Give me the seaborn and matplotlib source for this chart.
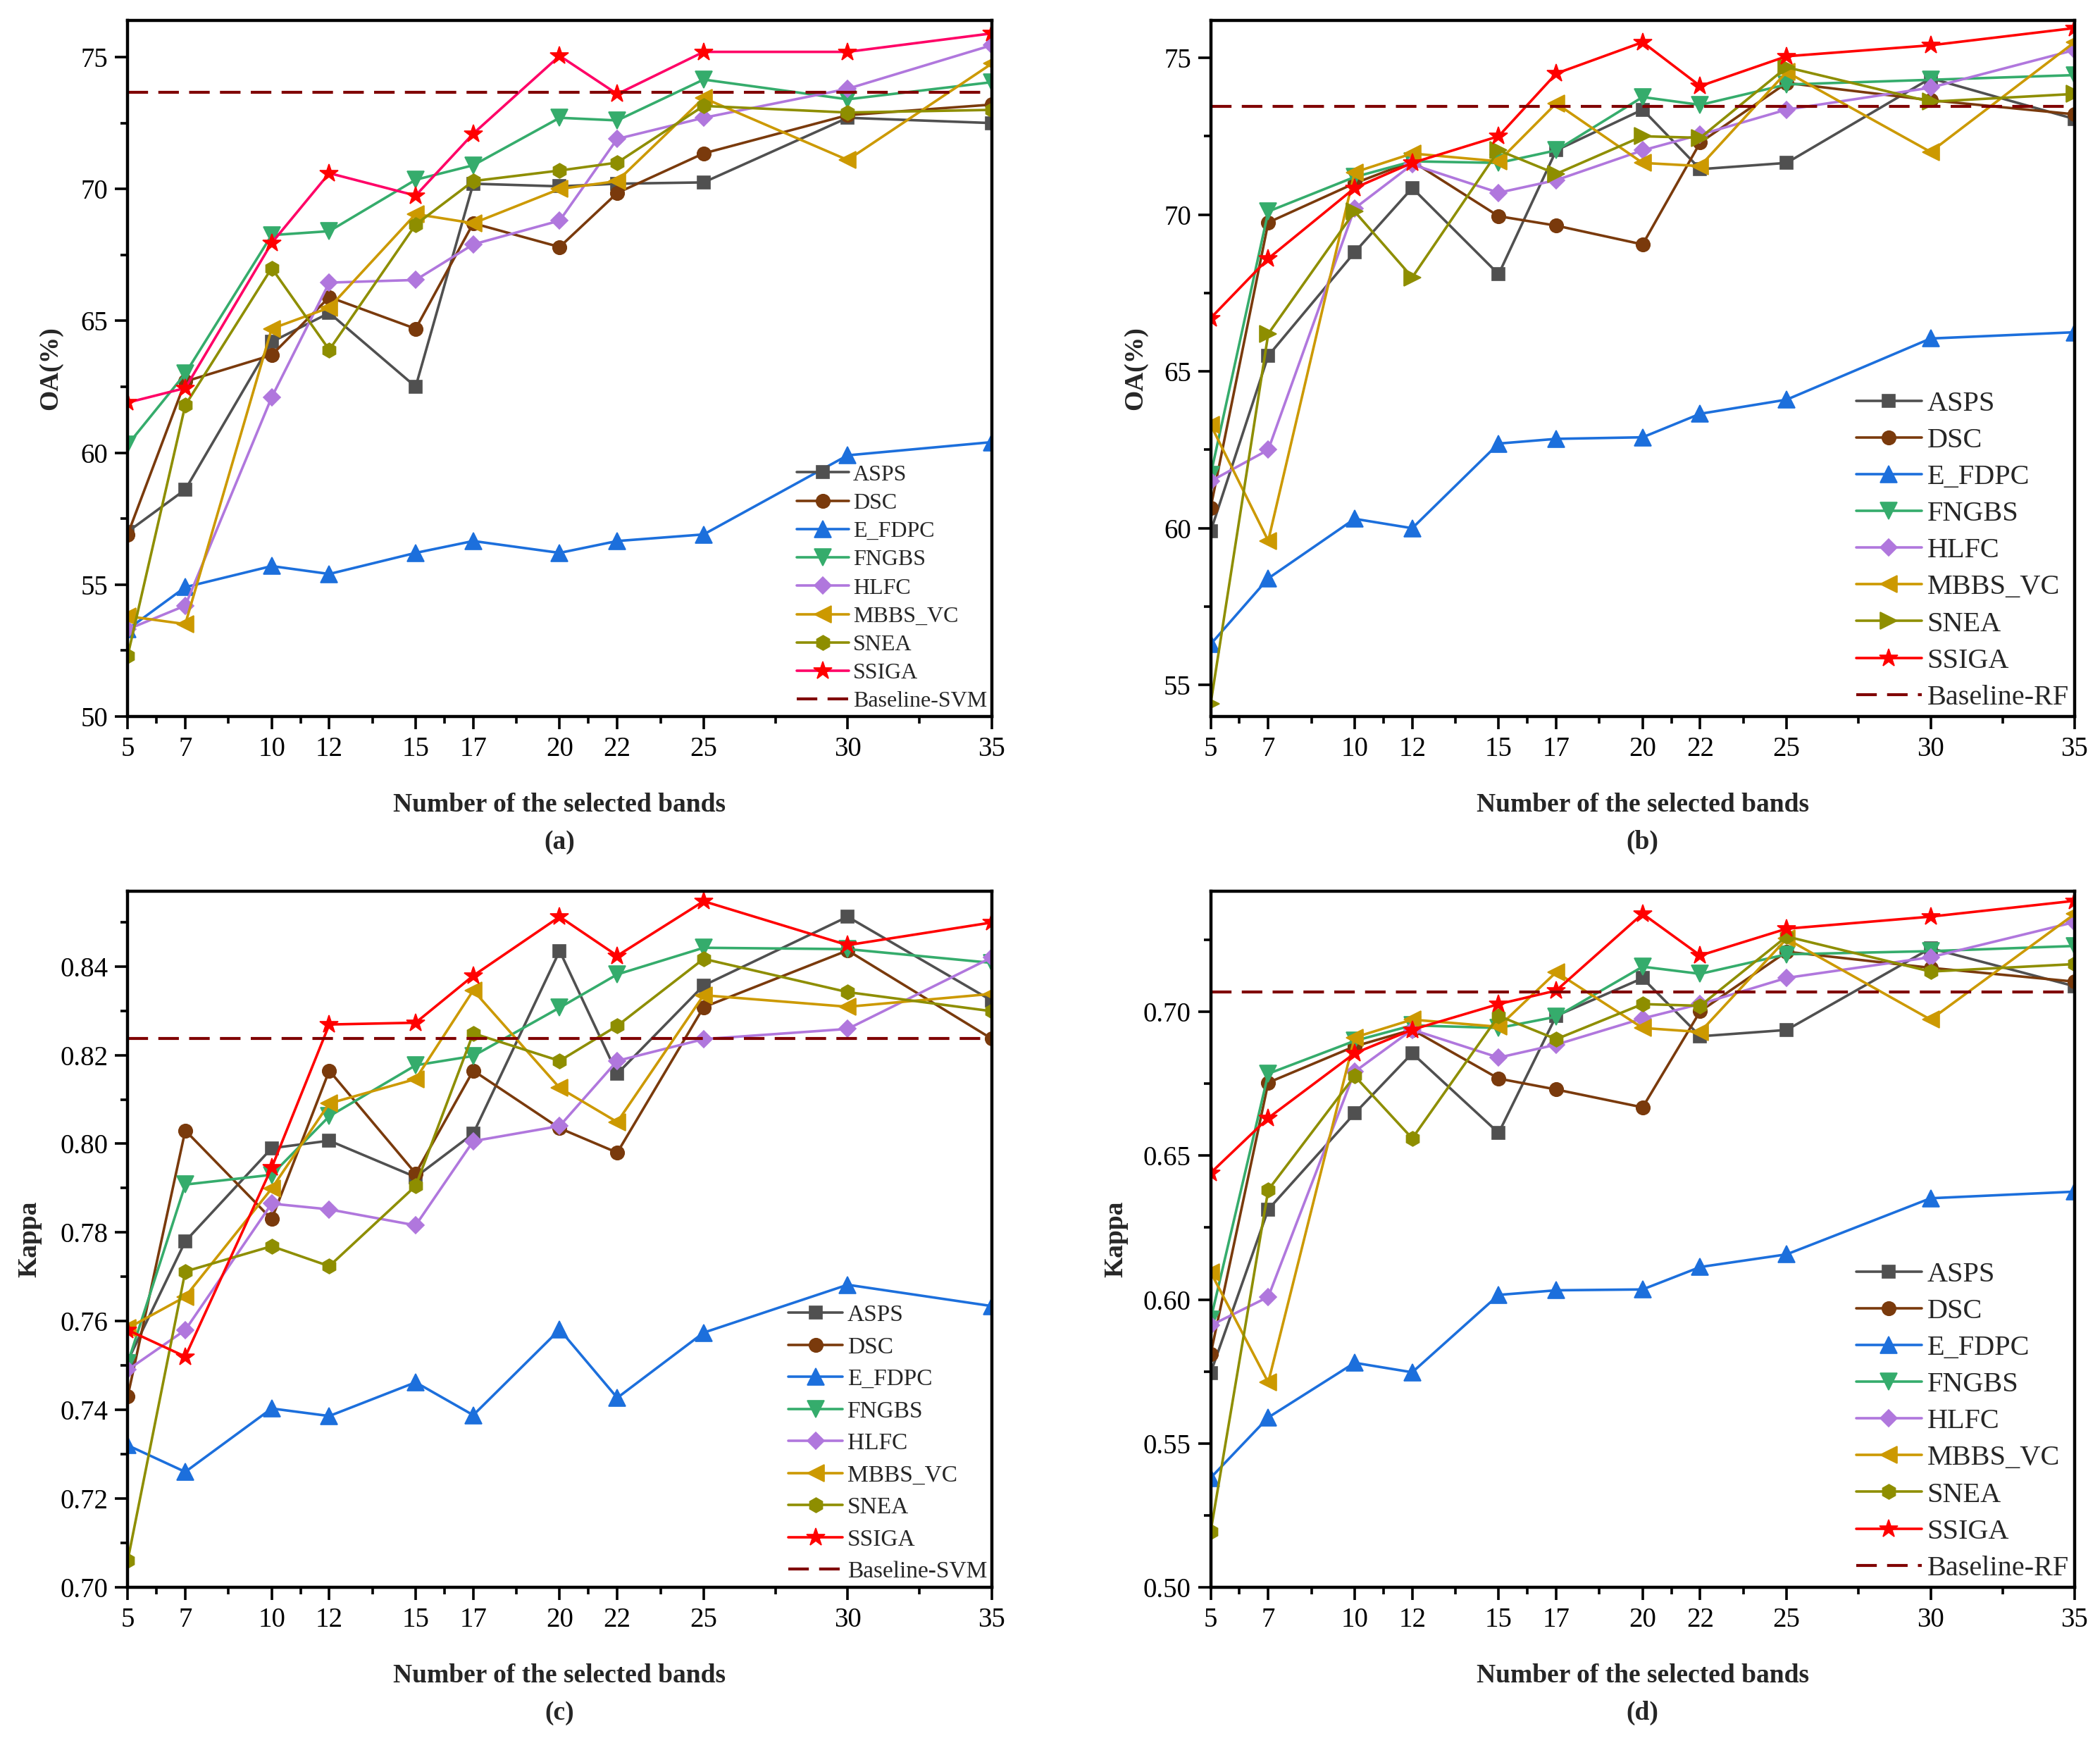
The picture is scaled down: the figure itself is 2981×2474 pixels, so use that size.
import matplotlib
matplotlib.use('Agg')
import matplotlib.pyplot as plt
import seaborn as sns
from matplotlib.ticker import FixedLocator, AutoMinorLocator, FormatStrFormatter

sns.set_style("ticks")
plt.rcParams['font.family'] = ['Liberation Serif', 'DejaVu Serif']
plt.rcParams['axes.linewidth'] = 1.6
plt.rcParams['xtick.major.size'] = 6.5
plt.rcParams['ytick.major.size'] = 6.5
plt.rcParams['xtick.minor.size'] = 3.5
plt.rcParams['ytick.minor.size'] = 3.5
plt.rcParams['xtick.major.width'] = 1.3
plt.rcParams['ytick.major.width'] = 1.3
plt.rcParams['xtick.minor.width'] = 1.3
plt.rcParams['ytick.minor.width'] = 1.3
plt.rcParams['xtick.color'] = 'black'
plt.rcParams['ytick.color'] = 'black'
plt.rcParams['axes.edgecolor'] = 'black'

# --- datos ---
bands = [5, 7, 10, 12, 15, 17, 20, 22, 25, 30, 35]
methods = ['ASPS', 'DSC', 'E_FDPC', 'FNGBS', 'HLFC', 'MBBS_VC', 'SNEA', 'SSIGA']

# (a) OA con SVM
oa_svm_asps = [57.0, 58.6, 64.2, 65.3, 62.5, 70.2, 70.1, 70.2, 70.25, 72.7, 72.5]
oa_svm_dsc = [56.9, 62.7, 63.7, 65.9, 64.7, 68.7, 67.8, 69.85, 71.35, 72.8, 73.2]
oa_svm_efdpc = [53.3, 54.9, 55.7, 55.4, 56.2, 56.65, 56.2, 56.65, 56.9, 59.9, 60.4]
oa_svm_fngbs = [60.3, 63.0, 68.25, 68.4, 70.35, 70.9, 72.7, 72.6, 74.15, 73.4, 74.05]
oa_svm_hlfc = [53.3, 54.2, 62.1, 66.45, 66.55, 67.9, 68.8, 71.9, 72.7, 73.8, 75.45]
oa_svm_mbbs = [53.8, 53.5, 64.7, 65.5, 69.05, 68.7, 70.0, 70.3, 73.45, 71.1, 74.75]
oa_svm_snea = [52.3, 61.8, 67.0, 63.9, 68.65, 70.3, 70.7, 71.0, 73.15, 72.9, 73.0]
oa_svm_ssiga = [61.9, 62.45, 67.95, 70.6, 69.75, 72.1, 75.05, 73.6, 75.2, 75.2, 75.9]
oa_svm_baseline = 73.67

# (b) OA con RF
oa_rf_asps = [59.9, 65.5, 68.8, 70.85, 68.1, 72.05, 73.35, 71.45, 71.65, 74.35, 73.05]
oa_rf_dsc = [60.65, 69.75, 71.0, 71.7, 69.95, 69.65, 69.05, 72.3, 74.2, 73.65, 73.2]
oa_rf_efdpc = [56.3, 58.4, 60.3, 60.0, 62.7, 62.85, 62.9, 63.65, 64.1, 66.05, 66.25]
oa_rf_fngbs = [61.7, 70.1, 71.2, 71.7, 71.65, 72.05, 73.75, 73.5, 74.15, 74.3, 74.45]
oa_rf_hlfc = [61.5, 62.5, 70.2, 71.6, 70.7, 71.1, 72.05, 72.55, 73.35, 74.05, 75.25]
oa_rf_mbbs = [63.3, 59.6, 71.35, 71.95, 71.7, 73.55, 71.65, 71.55, 74.55, 72.0, 75.5]
oa_rf_snea = [54.4, 66.2, 70.1, 68.0, 72.05, 71.3, 72.5, 72.45, 74.7, 73.6, 73.85]
oa_rf_ssiga = [66.7, 68.6, 70.85, 71.65, 72.5, 74.5, 75.5, 74.1, 75.05, 75.4, 75.95]
oa_rf_baseline = 73.45

# (c) Kappa con SVM
kappa_svm_asps = [0.751, 0.778, 0.799, 0.8007, 0.7925, 0.8023, 0.8435, 0.8158, 0.8357, 0.8512, 0.8323]
kappa_svm_dsc = [0.743, 0.803, 0.783, 0.8165, 0.7933, 0.8165, 0.8035, 0.798, 0.8308, 0.8436, 0.8237]
kappa_svm_efdpc = [0.732, 0.726, 0.7403, 0.7386, 0.7462, 0.7388, 0.7581, 0.7427, 0.7574, 0.7682, 0.7634]
kappa_svm_fngbs = [0.7505, 0.7908, 0.793, 0.8062, 0.8177, 0.8198, 0.8307, 0.8382, 0.8442, 0.8439, 0.8408]
kappa_svm_hlfc = [0.749, 0.758, 0.7865, 0.7852, 0.7816, 0.8006, 0.804, 0.8187, 0.8236, 0.8259, 0.842]
kappa_svm_mbbs = [0.7584, 0.7655, 0.7899, 0.8091, 0.8146, 0.8346, 0.8126, 0.8049, 0.8335, 0.8309, 0.8338]
kappa_svm_snea = [0.706, 0.7712, 0.7769, 0.7724, 0.7905, 0.8249, 0.8187, 0.8266, 0.8417, 0.8342, 0.8299]
kappa_svm_ssiga = [0.758, 0.752, 0.7946, 0.8269, 0.8273, 0.8379, 0.8512, 0.8424, 0.8547, 0.8448, 0.8499]
kappa_svm_baseline = 0.8237

# (d) Kappa con RF
kappa_rf_asps = [0.5745, 0.6313, 0.6647, 0.6856, 0.6579, 0.6986, 0.7117, 0.6915, 0.6937, 0.7221, 0.7089]
kappa_rf_dsc = [0.581, 0.6754, 0.688, 0.6938, 0.6768, 0.673, 0.6668, 0.7002, 0.7209, 0.7153, 0.7105]
kappa_rf_efdpc = [0.538, 0.559, 0.578, 0.5747, 0.6016, 0.6032, 0.6035, 0.6113, 0.6157, 0.6352, 0.6375]
kappa_rf_fngbs = [0.593, 0.6785, 0.6899, 0.6953, 0.6944, 0.6983, 0.7157, 0.7132, 0.72, 0.7211, 0.7229]
kappa_rf_hlfc = [0.591, 0.6009, 0.6792, 0.6938, 0.6841, 0.6886, 0.6977, 0.7027, 0.7118, 0.719, 0.7312]
kappa_rf_mbbs = [0.6095, 0.5712, 0.6911, 0.6973, 0.6948, 0.7138, 0.6944, 0.693, 0.7254, 0.6973, 0.734]
kappa_rf_snea = [0.5193, 0.6381, 0.6777, 0.656, 0.6986, 0.6905, 0.7027, 0.7021, 0.7262, 0.714, 0.7166]
kappa_rf_ssiga = [0.644, 0.6631, 0.6856, 0.6938, 0.7027, 0.7074, 0.7341, 0.7196, 0.7289, 0.7331, 0.7386]
kappa_rf_baseline = 0.7068

# --- estilo de cada serie ---
colors = {'ASPS': '#505050', 'DSC': '#7A3A0C', 'E_FDPC': '#1C6FDC', 'FNGBS': '#35AC6C',
          'HLFC': '#B077DD', 'MBBS_VC': '#CC9900', 'SNEA': '#8E8E00', 'SSIGA': '#FF0000'}
markers = {'ASPS': 's', 'DSC': 'o', 'E_FDPC': '^', 'FNGBS': 'v',
           'HLFC': 'D', 'MBBS_VC': '<', 'SNEA': 'h', 'SSIGA': '*'}
msizes = {'s': 6.5, 'o': 7, '^': 8.5, 'v': 8.5, 'D': 6, '<': 8.5, '>': 8.5, 'h': 7.5, '*': 9.5}

panels = [
    dict(series=[oa_svm_asps, oa_svm_dsc, oa_svm_efdpc, oa_svm_fngbs, oa_svm_hlfc,
                 oa_svm_mbbs, oa_svm_snea, oa_svm_ssiga],
         base=oa_svm_baseline, base_label='Baseline-SVM', ylabel='OA(%)', tag='(a)',
         ylim=(50, 76.4), yticks=[50, 55, 60, 65, 70, 75], fmt='%d', snea='h',
         ssiga_line='#FF0066', leg_fs=11.5, leg_sp=0.34, ylab_x=-0.089),
    dict(series=[oa_rf_asps, oa_rf_dsc, oa_rf_efdpc, oa_rf_fngbs, oa_rf_hlfc,
                 oa_rf_mbbs, oa_rf_snea, oa_rf_ssiga],
         base=oa_rf_baseline, base_label='Baseline-RF', ylabel='OA(%)', tag='(b)',
         ylim=(54, 76.2), yticks=[55, 60, 65, 70, 75], fmt='%d', snea='>',
         ssiga_line='#FF0000', leg_fs=14.5, leg_sp=0.37, ylab_x=-0.087),
    dict(series=[kappa_svm_asps, kappa_svm_dsc, kappa_svm_efdpc, kappa_svm_fngbs, kappa_svm_hlfc,
                 kappa_svm_mbbs, kappa_svm_snea, kappa_svm_ssiga],
         base=kappa_svm_baseline, base_label='Baseline-SVM', ylabel='Kappa', tag='(c)',
         ylim=(0.70, 0.857), yticks=[0.70, 0.72, 0.74, 0.76, 0.78, 0.80, 0.82, 0.84],
         fmt='%.2f', snea='h', ssiga_line='#FF0000', leg_fs=12, leg_sp=0.45, ylab_x=-0.114),
    dict(series=[kappa_rf_asps, kappa_rf_dsc, kappa_rf_efdpc, kappa_rf_fngbs, kappa_rf_hlfc,
                 kappa_rf_mbbs, kappa_rf_snea, kappa_rf_ssiga],
         base=kappa_rf_baseline, base_label='Baseline-RF', ylabel='Kappa', tag='(d)',
         ylim=(0.50, 0.742), yticks=[0.50, 0.55, 0.60, 0.65, 0.70],
         fmt='%.2f', snea='h', ssiga_line='#FF0000', leg_fs=14.5, leg_sp=0.37, ylab_x=-0.110),
]

fig = plt.figure(figsize=(14.905, 12.37), dpi=200)
positions = [(0.0608, 0.589), (0.5765, 0.589), (0.0608, 0.0894), (0.5765, 0.0894)]
W, H = 0.4114, 0.3994

minor_x = [(a + b) / 2 for a, b in zip(bands[:-1], bands[1:])]

for p, (left, bottom) in zip(panels, positions):
    ax = fig.add_axes([left, bottom, W, H])
    for name, vals in zip(methods, p['series']):
        mk = p['snea'] if name == 'SNEA' else markers[name]
        col = colors[name]
        line_col = p['ssiga_line'] if name == 'SSIGA' else col
        sns.lineplot(x=bands, y=vals, ax=ax, color=line_col, linewidth=1.3,
                     marker=mk, markersize=msizes[mk], markerfacecolor=col,
                     markeredgecolor=col, markeredgewidth=0.6, label=name)
    ax.axhline(p['base'], color='#800000', linewidth=1.5, dashes=(7, 3.5),
               label=p['base_label'])

    ax.set_xlim(5, 35)
    ax.set_ylim(*p['ylim'])
    ax.set_xticks(bands)
    ax.xaxis.set_minor_locator(FixedLocator(minor_x))
    ax.set_yticks(p['yticks'])
    ax.yaxis.set_minor_locator(AutoMinorLocator(2))
    ax.yaxis.set_major_formatter(FormatStrFormatter(p['fmt']))
    ax.tick_params(axis='both', which='both', direction='out', labelsize=14,
                   top=False, right=False)
    ax.set_xlabel('')
    ax.set_ylabel('')

    ax.text(0.5, -0.127, 'Number of the selected bands', transform=ax.transAxes,
            ha='center', va='center', fontsize=13.5, fontweight='bold')
    ax.text(0.5, -0.181, p['tag'], transform=ax.transAxes,
            ha='center', va='center', fontsize=13.5, fontweight='bold')
    ax.text(p['ylab_x'], 0.5, p['ylabel'], transform=ax.transAxes, rotation=90,
            ha='center', va='center', fontsize=13.5, fontweight='bold')

    leg = ax.legend(loc='lower right', frameon=False, fontsize=p['leg_fs'],
                    handlelength=2.3, handletextpad=0.2, labelspacing=p['leg_sp'],
                    borderaxespad=0.1, borderpad=0.1)

fig.savefig('out.png', dpi=200)
plt.close(fig)
